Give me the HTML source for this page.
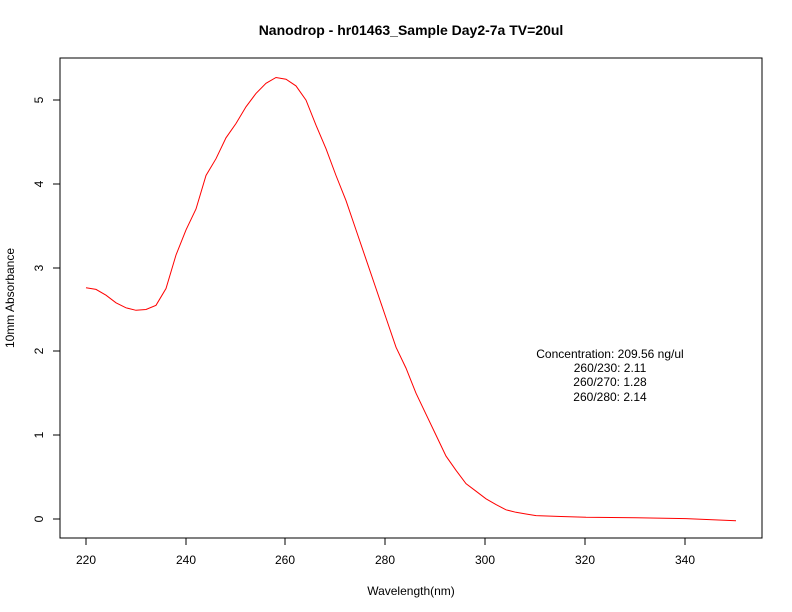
<!DOCTYPE html>
<html><head><meta charset="utf-8"><style>body{margin:0;background:#fff}svg{display:block}text{font-family:"Liberation Sans",sans-serif;font-size:12px}</style></head>
<body>
<svg width="792" height="612" xmlns="http://www.w3.org/2000/svg">
<rect width="792" height="612" fill="#fff"/>
<text x="411" y="35" text-anchor="middle" font-weight="bold" style="font-size:14px">Nanodrop - hr01463_Sample Day2-7a  TV=20ul</text>
<rect x="60" y="58" width="702" height="480" fill="none" stroke="#000"/>
<g stroke="#000">
<line x1="86" y1="538" x2="685" y2="538"/>
<line x1="86" y1="538" x2="86" y2="545"/><line x1="186" y1="538" x2="186" y2="545"/><line x1="285" y1="538" x2="285" y2="545"/><line x1="385" y1="538" x2="385" y2="545"/><line x1="485" y1="538" x2="485" y2="545"/><line x1="585" y1="538" x2="585" y2="545"/><line x1="685" y1="538" x2="685" y2="545"/>
<line x1="60" y1="519" x2="60" y2="100"/>
<line x1="53" y1="519" x2="60" y2="519"/><line x1="53" y1="435" x2="60" y2="435"/><line x1="53" y1="351" x2="60" y2="351"/><line x1="53" y1="268" x2="60" y2="268"/><line x1="53" y1="184" x2="60" y2="184"/><line x1="53" y1="100" x2="60" y2="100"/>
</g>
<g text-anchor="middle">
<text x="86" y="564">220</text><text x="186" y="564">240</text><text x="285" y="564">260</text><text x="385" y="564">280</text><text x="485" y="564">300</text><text x="585" y="564">320</text><text x="685" y="564">340</text>
<text transform="translate(43,519) rotate(-90)">0</text>
<text transform="translate(43,435) rotate(-90)">1</text>
<text transform="translate(43,351) rotate(-90)">2</text>
<text transform="translate(43,268) rotate(-90)">3</text>
<text transform="translate(43,184) rotate(-90)">4</text>
<text transform="translate(43,100) rotate(-90)">5</text>
<text x="411" y="595">Wavelength(nm)</text>
<text transform="translate(14,298) rotate(-90)">10mm Absorbance</text>
<text x="610" y="358">Concentration: 209.56 ng/ul</text>
<text x="610" y="372">260/230: 2.11</text>
<text x="610" y="386">260/270: 1.28</text>
<text x="610" y="401">260/280: 2.14</text>
</g>
<polyline fill="none" stroke="#f00" stroke-width="1" points="86,287.7 96,289.4 106,295.2 116,302.8 126,307.8 136,310.3 146,309.5 156,305.3 166,288.5 176,255 186,229.9 196,209 206,175.5 216,158.7 226,137.8 236,123.5 246,106.8 256,93.4 266,83.3 276,77.5 286,79.2 296,85.9 306,100.1 316,125.2 326,148.7 336,175.5 346,200.6 356,229.9 366,259.2 376,288.5 386,317.9 396,347.2 406,368.1 416,393.2 426,414.2 436,435.1 446,456.1 456,470.3 466,483.7 476,491.2 486,498.8 496,504.6 506,509.8 516,512.3 526,514 536,515.6 561,516.5 586,517.3 636,517.7 686,518.6 736,520.7"/>
</svg>
</body></html>
